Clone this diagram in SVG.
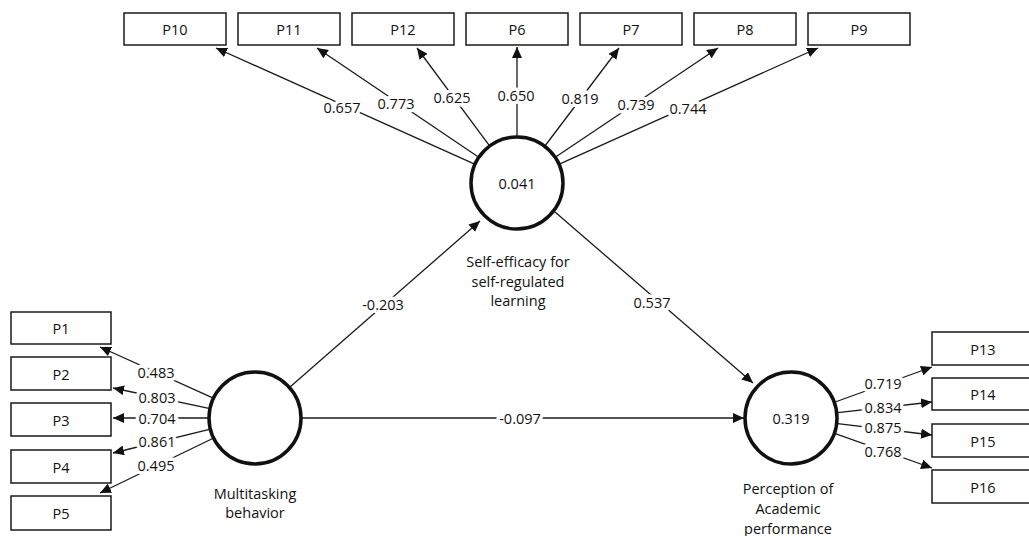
<svg xmlns="http://www.w3.org/2000/svg" width="1029" height="536" viewBox="0 0 1029 536">
<style>
text{font-family:"Open Sans","Noto Sans","Liberation Sans",sans-serif;font-size:14.5px;fill:#111;text-anchor:middle;dominant-baseline:central}
.box{fill:#fff;stroke:#1a1a1a;stroke-width:1.5}
.lv{fill:#fff;stroke:#111;stroke-width:3.5}
.c line{stroke:#1a1a1a;stroke-width:1.3;marker-end:url(#ah)}
.lbl{stroke:#fff;stroke-width:7;paint-order:stroke fill;stroke-linejoin:round}
</style>
<defs>
<marker id="ah" markerUnits="userSpaceOnUse" markerWidth="12" markerHeight="10" refX="11" refY="5" orient="auto">
<path d="M0,0 L11,5 L0,10 z" fill="#111"/>
</marker>
</defs>
<rect width="1029" height="536" fill="#fff"/>
<g class="c" id="connectors">
<line x1="474.1" y1="163.8" x2="216" y2="48"/>
<line x1="478" y1="156.7" x2="317" y2="48"/>
<line x1="489" y1="145.2" x2="417" y2="48"/>
<line x1="517" y1="136" x2="517" y2="47"/>
<line x1="545.3" y1="145.5" x2="619" y2="48"/>
<line x1="556" y1="156.8" x2="718" y2="48"/>
<line x1="559.9" y1="163.8" x2="818" y2="48"/>
<line x1="212.2" y1="397.6" x2="100" y2="347"/>
<line x1="208.9" y1="408.4" x2="113" y2="388"/>
<line x1="208" y1="418" x2="113" y2="418"/>
<line x1="209.4" y1="429.3" x2="113" y2="453"/>
<line x1="212.7" y1="438.5" x2="100" y2="493"/>
<line x1="835.2" y1="402" x2="932" y2="367"/>
<line x1="837.7" y1="412.7" x2="932" y2="402"/>
<line x1="837.7" y1="423.6" x2="932" y2="435"/>
<line x1="835.3" y1="433.7" x2="932" y2="468"/>
<line x1="290" y1="387" x2="480" y2="221"/>
<line x1="555" y1="212" x2="753" y2="383"/>
<line x1="302" y1="418" x2="744" y2="418"/>
</g>
<g id="labels">
<text class="lbl" x="342" y="107">0.657</text>
<text class="lbl" x="396" y="103">0.773</text>
<text class="lbl" x="452" y="97">0.625</text>
<text class="lbl" x="516" y="95">0.650</text>
<text class="lbl" x="580" y="98">0.819</text>
<text class="lbl" x="636" y="104">0.739</text>
<text class="lbl" x="688" y="108">0.744</text>
<text class="lbl" x="156" y="372">0.483</text>
<text class="lbl" x="157" y="397">0.803</text>
<text class="lbl" x="157" y="418">0.704</text>
<text class="lbl" x="157" y="441">0.861</text>
<text class="lbl" x="156" y="465">0.495</text>
<text class="lbl" x="883" y="383">0.719</text>
<text class="lbl" x="883" y="407">0.834</text>
<text class="lbl" x="883" y="427">0.875</text>
<text class="lbl" x="883" y="451">0.768</text>
<text class="lbl" x="383" y="304">-0.203</text>
<text class="lbl" x="652" y="302">0.537</text>
<text class="lbl" x="520" y="418">-0.097</text>
</g>
<g id="P10"><rect class="box" x="124" y="13" width="102" height="32"/><text x="175" y="29">P10</text></g>
<g id="P11"><rect class="box" x="238" y="13" width="102" height="32"/><text x="289" y="29">P11</text></g>
<g id="P12"><rect class="box" x="352" y="13" width="102" height="32"/><text x="403" y="29">P12</text></g>
<g id="P6"><rect class="box" x="466" y="13" width="102" height="32"/><text x="517" y="29">P6</text></g>
<g id="P7"><rect class="box" x="580" y="13" width="102" height="32"/><text x="631" y="29">P7</text></g>
<g id="P8"><rect class="box" x="694" y="13" width="102" height="32"/><text x="745" y="29">P8</text></g>
<g id="P9"><rect class="box" x="808" y="13" width="102" height="32"/><text x="859" y="29">P9</text></g>
<g id="P1"><rect class="box" x="11" y="312" width="100" height="32"/><text x="61" y="328">P1</text></g>
<g id="P2"><rect class="box" x="11" y="357" width="100" height="33"/><text x="61" y="374">P2</text></g>
<g id="P3"><rect class="box" x="11" y="403" width="100" height="33"/><text x="61" y="420">P3</text></g>
<g id="P4"><rect class="box" x="11" y="450" width="100" height="33"/><text x="61" y="467">P4</text></g>
<g id="P5"><rect class="box" x="11" y="496" width="100" height="34"/><text x="61" y="513">P5</text></g>
<g id="P13"><rect class="box" x="932" y="332" width="104" height="33"/><text x="983" y="349">P13</text></g>
<g id="P14"><rect class="box" x="932" y="378" width="104" height="32"/><text x="983" y="394">P14</text></g>
<g id="P15"><rect class="box" x="932" y="424" width="104" height="33"/><text x="983" y="441">P15</text></g>
<g id="P16"><rect class="box" x="932" y="470" width="104" height="33"/><text x="983" y="487">P16</text></g>
<g id="selfefficacy"><circle class="lv" cx="517" cy="183" r="46"/><text x="517" y="183">0.041</text>
<text x="518" y="261">Self-efficacy for</text><text x="518" y="281">self-regulated</text><text x="518" y="300">learning</text></g>
<g id="multitasking"><circle class="lv" cx="255" cy="418" r="46"/>
<text x="255" y="493">Multitasking</text><text x="255" y="512">behavior</text></g>
<g id="perception"><circle class="lv" cx="791" cy="418" r="46"/><text x="791" y="418">0.319</text>
<text x="788" y="488">Perception of</text><text x="788" y="508">Academic</text><text x="788" y="528">performance</text></g>
</svg>
